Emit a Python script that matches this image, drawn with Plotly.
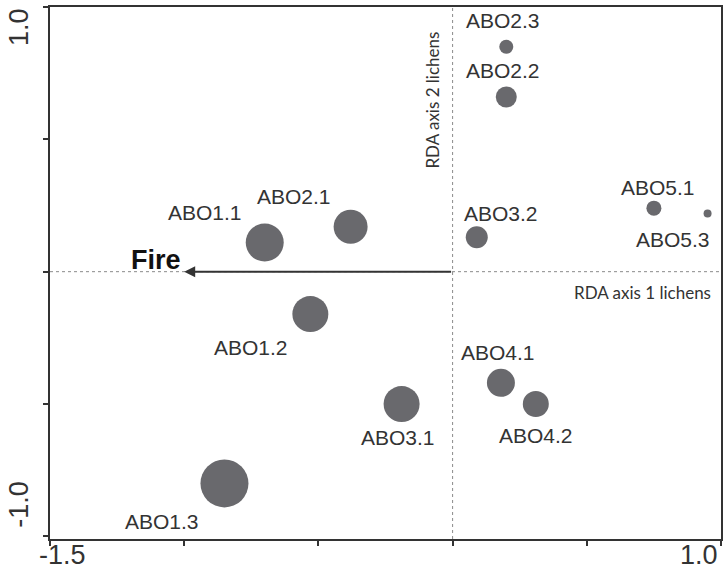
import plotly.graph_objects as go

# Site scores on the first two RDA axes (lichens)
sites = ["ABO1.1", "ABO1.2", "ABO1.3", "ABO2.1", "ABO2.2", "ABO2.3",
         "ABO3.1", "ABO3.2", "ABO4.1", "ABO4.2", "ABO5.1", "ABO5.3"]
axis1 = [-0.70, -0.53, -0.85, -0.38, 0.20, 0.20,
         -0.19, 0.09, 0.18, 0.31, 0.75, 0.95]
axis2 = [0.11, -0.16, -0.80, 0.17, 0.66, 0.85,
         -0.50, 0.13, -0.42, -0.50, 0.24, 0.22]
# Symbol weight per site (drawn as marker diameter)
weight = [38, 36, 48, 34, 21, 14, 36, 22, 28, 26, 15, 8]

# Environmental vector
vector_name = "Fire"
vector_end = (-1.0, 0.0)

# Axis tick values and the labelled extremes
x_ticks = [-1.5, -1.0, -0.5, 0.0, 0.5, 1.0]
y_ticks = [-1.0, -0.5, 0.0, 0.5, 1.0]
x_range = [-1.5, 1.0]
y_range = [-1.01, 1.0]

# Label placement (pixel offsets from each site symbol)
label_offset = {
    "ABO1.1": (-60, -30), "ABO1.2": (-59, 33), "ABO1.3": (-62, 38),
    "ABO2.1": (-57, -30), "ABO2.2": (-3, -26), "ABO2.3": (-3, -26),
    "ABO3.1": (-4, 33), "ABO3.2": (24, -24), "ABO4.1": (-3, -30),
    "ABO4.2": (0, 31), "ABO5.1": (4, -21), "ABO5.3": (-35, 26),
}

ink = "#333333"
dot_grey = "#8a8a8a"

fig = go.Figure()

# Zero reference lines (dotted)
fig.add_shape(type="line", x0=x_range[0], x1=x_range[1], y0=0, y1=0,
              line=dict(color=dot_grey, width=1, dash="dot"), layer="below")
fig.add_shape(type="line", x0=0, x1=0, y0=y_range[0], y1=y_range[1],
              line=dict(color=dot_grey, width=1, dash="dot"), layer="below")

fig.add_trace(go.Scatter(
    x=axis1, y=axis2, mode="markers",
    marker=dict(size=weight, color="#69696d", line=dict(width=0), opacity=1),
    hovertext=sites, hoverinfo="text", showlegend=False,
))

label_font = dict(family="Liberation Sans, Arial, sans-serif", size=21, color=ink)
for name, x, y in zip(sites, axis1, axis2):
    dx, dy = label_offset[name]
    fig.add_annotation(x=x, y=y, text=name, showarrow=False, font=label_font,
                       xshift=dx, yshift=-dy, xanchor="center", yanchor="middle")

# Fire arrow from the origin
fig.add_annotation(x=vector_end[0], y=vector_end[1], ax=0, ay=0,
                   xref="x", yref="y", axref="x", ayref="y", text="",
                   showarrow=True, arrowhead=2, arrowsize=1.1, arrowwidth=2,
                   arrowcolor=ink)
fig.add_annotation(x=vector_end[0], y=vector_end[1], text="<b>%s</b>" % vector_name,
                   showarrow=False, xanchor="right", yanchor="bottom",
                   xshift=-1, yshift=-5,
                   font=dict(family="Liberation Sans, Arial, sans-serif", size=27,
                             color="#111111"))

# Axis titles drawn inside the plot
axis_font = dict(family="Lato, sans-serif", size=17, color=ink)
fig.add_annotation(x=x_range[1], y=0, text="RDA axis 1 lichens", showarrow=False,
                   xanchor="right", yanchor="top", xshift=-8, yshift=-8,
                   font=axis_font)
fig.add_annotation(x=0, y=y_range[1], text="RDA axis 2 lichens", showarrow=False,
                   textangle=-90, xanchor="right", yanchor="top", xshift=-8,
                   yshift=-23, font=axis_font)

# End labels on both axes
tick_font = dict(family="Liberation Sans, Arial, sans-serif", size=27, color=ink)
fig.add_annotation(x=x_ticks[0], y=0, yref="paper", text="-1.5", showarrow=False,
                   xanchor="center", yanchor="top", xshift=12, yshift=1,
                   font=tick_font)
fig.add_annotation(x=x_ticks[-1], y=0, yref="paper", text="1.0", showarrow=False,
                   xanchor="center", yanchor="top", xshift=-22, yshift=1,
                   font=tick_font)
fig.add_annotation(x=0, xref="paper", y=y_ticks[-1], text="1.0", showarrow=False,
                   textangle=-90, xanchor="right", yanchor="top", xshift=-14,
                   yshift=1, font=tick_font)
fig.add_annotation(x=0, xref="paper", y=y_ticks[0], text="-1.0", showarrow=False,
                   textangle=-90, xanchor="right", yanchor="bottom", xshift=-14,
                   yshift=6, font=tick_font)

axis_common = dict(showgrid=False, zeroline=False, showline=True, linecolor=ink,
                   linewidth=2, mirror=True, ticks="outside", ticklen=5,
                   tickwidth=1.5, tickcolor=ink, showticklabels=False)

fig.update_xaxes(range=x_range, tickvals=x_ticks, **axis_common)
fig.update_yaxes(range=y_range, tickvals=y_ticks, **axis_common)

fig.update_layout(
    width=728, height=579,
    margin=dict(l=50, r=5, t=5, b=40),
    paper_bgcolor="white", plot_bgcolor="white",
)

fig.write_html("out.html")
